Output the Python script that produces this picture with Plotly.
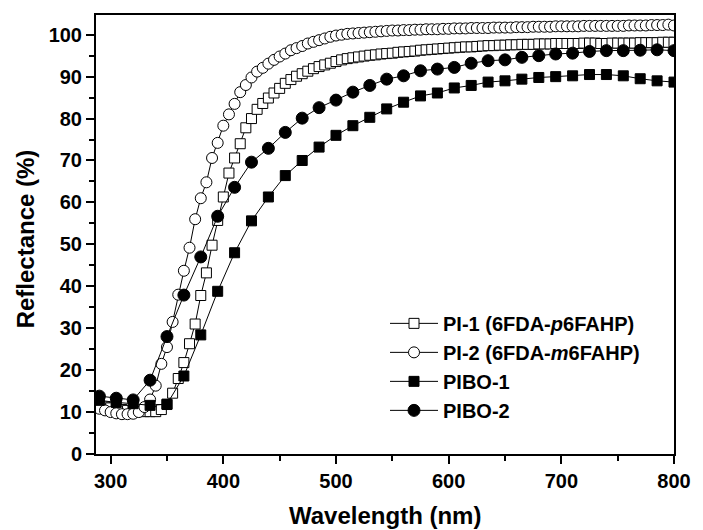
import plotly.graph_objects as go

# Diffuse reflectance spectra of the polyimide films (5 nm grid)
wl_pi = list(range(290, 805, 5))
pi1 = [
    11.5, 11.2, 11.0, 10.8, 10.6, 10.4, 10.3, 10.2, 10.1, 10.1,
    10.1, 10.6, 11.8, 14.5, 18.0, 21.8, 26.3, 31.0, 37.8, 43.2,
    49.8, 55.7, 61.3, 67.0, 70.6, 74.0, 77.8, 80.0, 82.2, 83.6,
    84.9, 86.1, 87.2, 88.4, 89.3, 90.1, 90.7, 91.3, 91.9, 92.4,
    92.8, 93.2, 93.6, 94.0, 94.3, 94.5, 94.7, 94.9, 95.1, 95.2,
    95.4, 95.5, 95.6, 95.8, 95.9, 96.0, 96.1, 96.3, 96.4, 96.5,
    96.6, 96.7, 96.8, 96.9, 97.0, 97.1, 97.1, 97.2, 97.3, 97.4,
    97.4, 97.5, 97.5, 97.6, 97.6, 97.7, 97.7, 97.7, 97.8, 97.8,
    97.8, 97.9, 97.9, 97.9, 97.9, 97.9, 98.0, 98.0, 98.0, 97.9,
    97.9, 98.0, 98.0, 98.0, 98.0, 98.0, 98.1, 98.1, 98.1, 98.1,
    98.2, 98.2, 98.2,
]
pi2 = [
    10.8, 10.4, 10.0, 9.7, 9.5, 9.5, 9.6, 10.0, 11.2, 13.0,
    16.3, 21.5, 25.5, 31.5, 38.0, 43.7, 49.2, 56.0, 61.0, 64.8,
    70.6, 74.2, 78.3, 81.0, 83.5, 86.3, 88.0, 89.8, 91.2, 92.1,
    93.1, 94.0, 94.8, 95.5, 96.3, 96.8, 97.3, 97.9, 98.3, 98.7,
    99.1, 99.5, 99.8, 100.0, 100.2, 100.3, 100.4, 100.5, 100.6, 100.7,
    100.8, 100.9, 101.0, 101.0, 101.1, 101.1, 101.2, 101.2, 101.3, 101.3,
    101.3, 101.4, 101.4, 101.5, 101.5, 101.5, 101.6, 101.6, 101.6, 101.6,
    101.7, 101.7, 101.7, 101.7, 101.8, 101.8, 101.8, 101.9, 101.9, 101.9,
    101.9, 102.0, 102.0, 102.0, 102.0, 102.0, 102.1, 102.1, 102.1, 102.1,
    102.1, 102.1, 102.1, 102.1, 102.2, 102.2, 102.2, 102.2, 102.3, 102.3,
    102.3, 102.4, 102.2,
]

# Poly(imide-benzoxazole) films (15 nm grid)
wl_pibo = list(range(290, 805, 15))
pibo1 = [
    12.8, 12.3, 12.0, 11.6, 11.9, 18.6, 28.4, 38.8, 48.0, 55.6,
    61.3, 66.4, 70.0, 73.2, 76.0, 78.3, 80.3, 82.3, 83.9, 85.4,
    86.1, 87.3, 87.9, 88.7, 89.0, 89.4, 89.8, 90.0, 90.2, 90.5,
    90.5, 90.2, 89.5, 89.0, 88.7,
]
pibo2 = [
    13.8, 13.3, 12.9, 17.6, 28.0, 37.9, 47.0, 56.7, 63.6, 69.6,
    72.9, 76.7, 80.1, 82.6, 84.4, 86.3, 87.9, 89.4, 90.2, 91.4,
    91.8, 92.2, 93.2, 93.8, 94.0, 94.6, 95.0, 95.4, 95.6, 96.0,
    96.2, 96.2, 96.3, 96.4, 96.2,
]

names = [
    "PI-1 (6FDA-<i>p</i>6FAHP)",
    "PI-2 (6FDA-<i>m</i>6FAHP)",
    "PIBO-1",
    "PIBO-2",
]

FONT = "Liberation Sans, Arial, sans-serif"
INK = "#000000"

fig = go.Figure()

series = [
    (wl_pi, pi1, names[0], "square", "white", 10),
    (wl_pi, pi2, names[1], "circle", "white", 11),
    (wl_pibo, pibo1, names[2], "square", INK, 10),
    (wl_pibo, pibo2, names[3], "circle", INK, 12),
]
for xs, ys, nm, sym, fill, sz in series:
    fig.add_trace(go.Scatter(
        x=xs, y=ys, name=nm, mode="lines+markers",
        line=dict(color=INK, width=1),
        marker=dict(symbol=sym, size=sz, color=fill,
                    line=dict(color=INK, width=1)),
    ))

axis_common = dict(
    showline=True, linecolor=INK, linewidth=2, mirror=True,
    ticks="outside", ticklen=8, tickwidth=1.5, tickcolor=INK,
    showgrid=False, zeroline=False,
    tickfont=dict(family=FONT, size=20, color=INK, weight="bold"),
)

fig.update_xaxes(
    range=[287, 800], tick0=300, dtick=100,
    minor=dict(ticks="outside", ticklen=5, tickwidth=1.5, tickcolor=INK, dtick=50, tick0=300),
    **axis_common,
)
fig.update_yaxes(
    range=[0, 104.7], tick0=0, dtick=10,
    minor=dict(ticks="outside", ticklen=5, tickwidth=1.5, tickcolor=INK, dtick=5, tick0=0),
    **axis_common,
)

fig.add_annotation(
    text="Wavelength (nm)", xref="paper", yref="paper", x=0.5, y=-0.14,
    xanchor="center", yanchor="middle", showarrow=False,
    font=dict(family=FONT, size=24, color=INK, weight="bold"),
)
fig.add_annotation(
    text="Reflectance (%)", xref="paper", yref="paper", x=-0.122, y=0.49,
    xanchor="center", yanchor="middle", showarrow=False, textangle=-90,
    font=dict(family=FONT, size=24, color=INK, weight="bold"),
)

fig.update_layout(
    width=703, height=530,
    margin=dict(l=96, r=18, t=15, b=76),
    paper_bgcolor="white", plot_bgcolor="white",
    showlegend=True,
    legend=dict(
        x=0.5, y=0.342, xanchor="left", yanchor="top",
        bgcolor="rgba(0,0,0,0)", borderwidth=0,
        font=dict(family=FONT, size=20, color=INK, weight="bold"),
        itemwidth=48, tracegroupgap=0,
    ),
)

fig.write_html("out.html")
